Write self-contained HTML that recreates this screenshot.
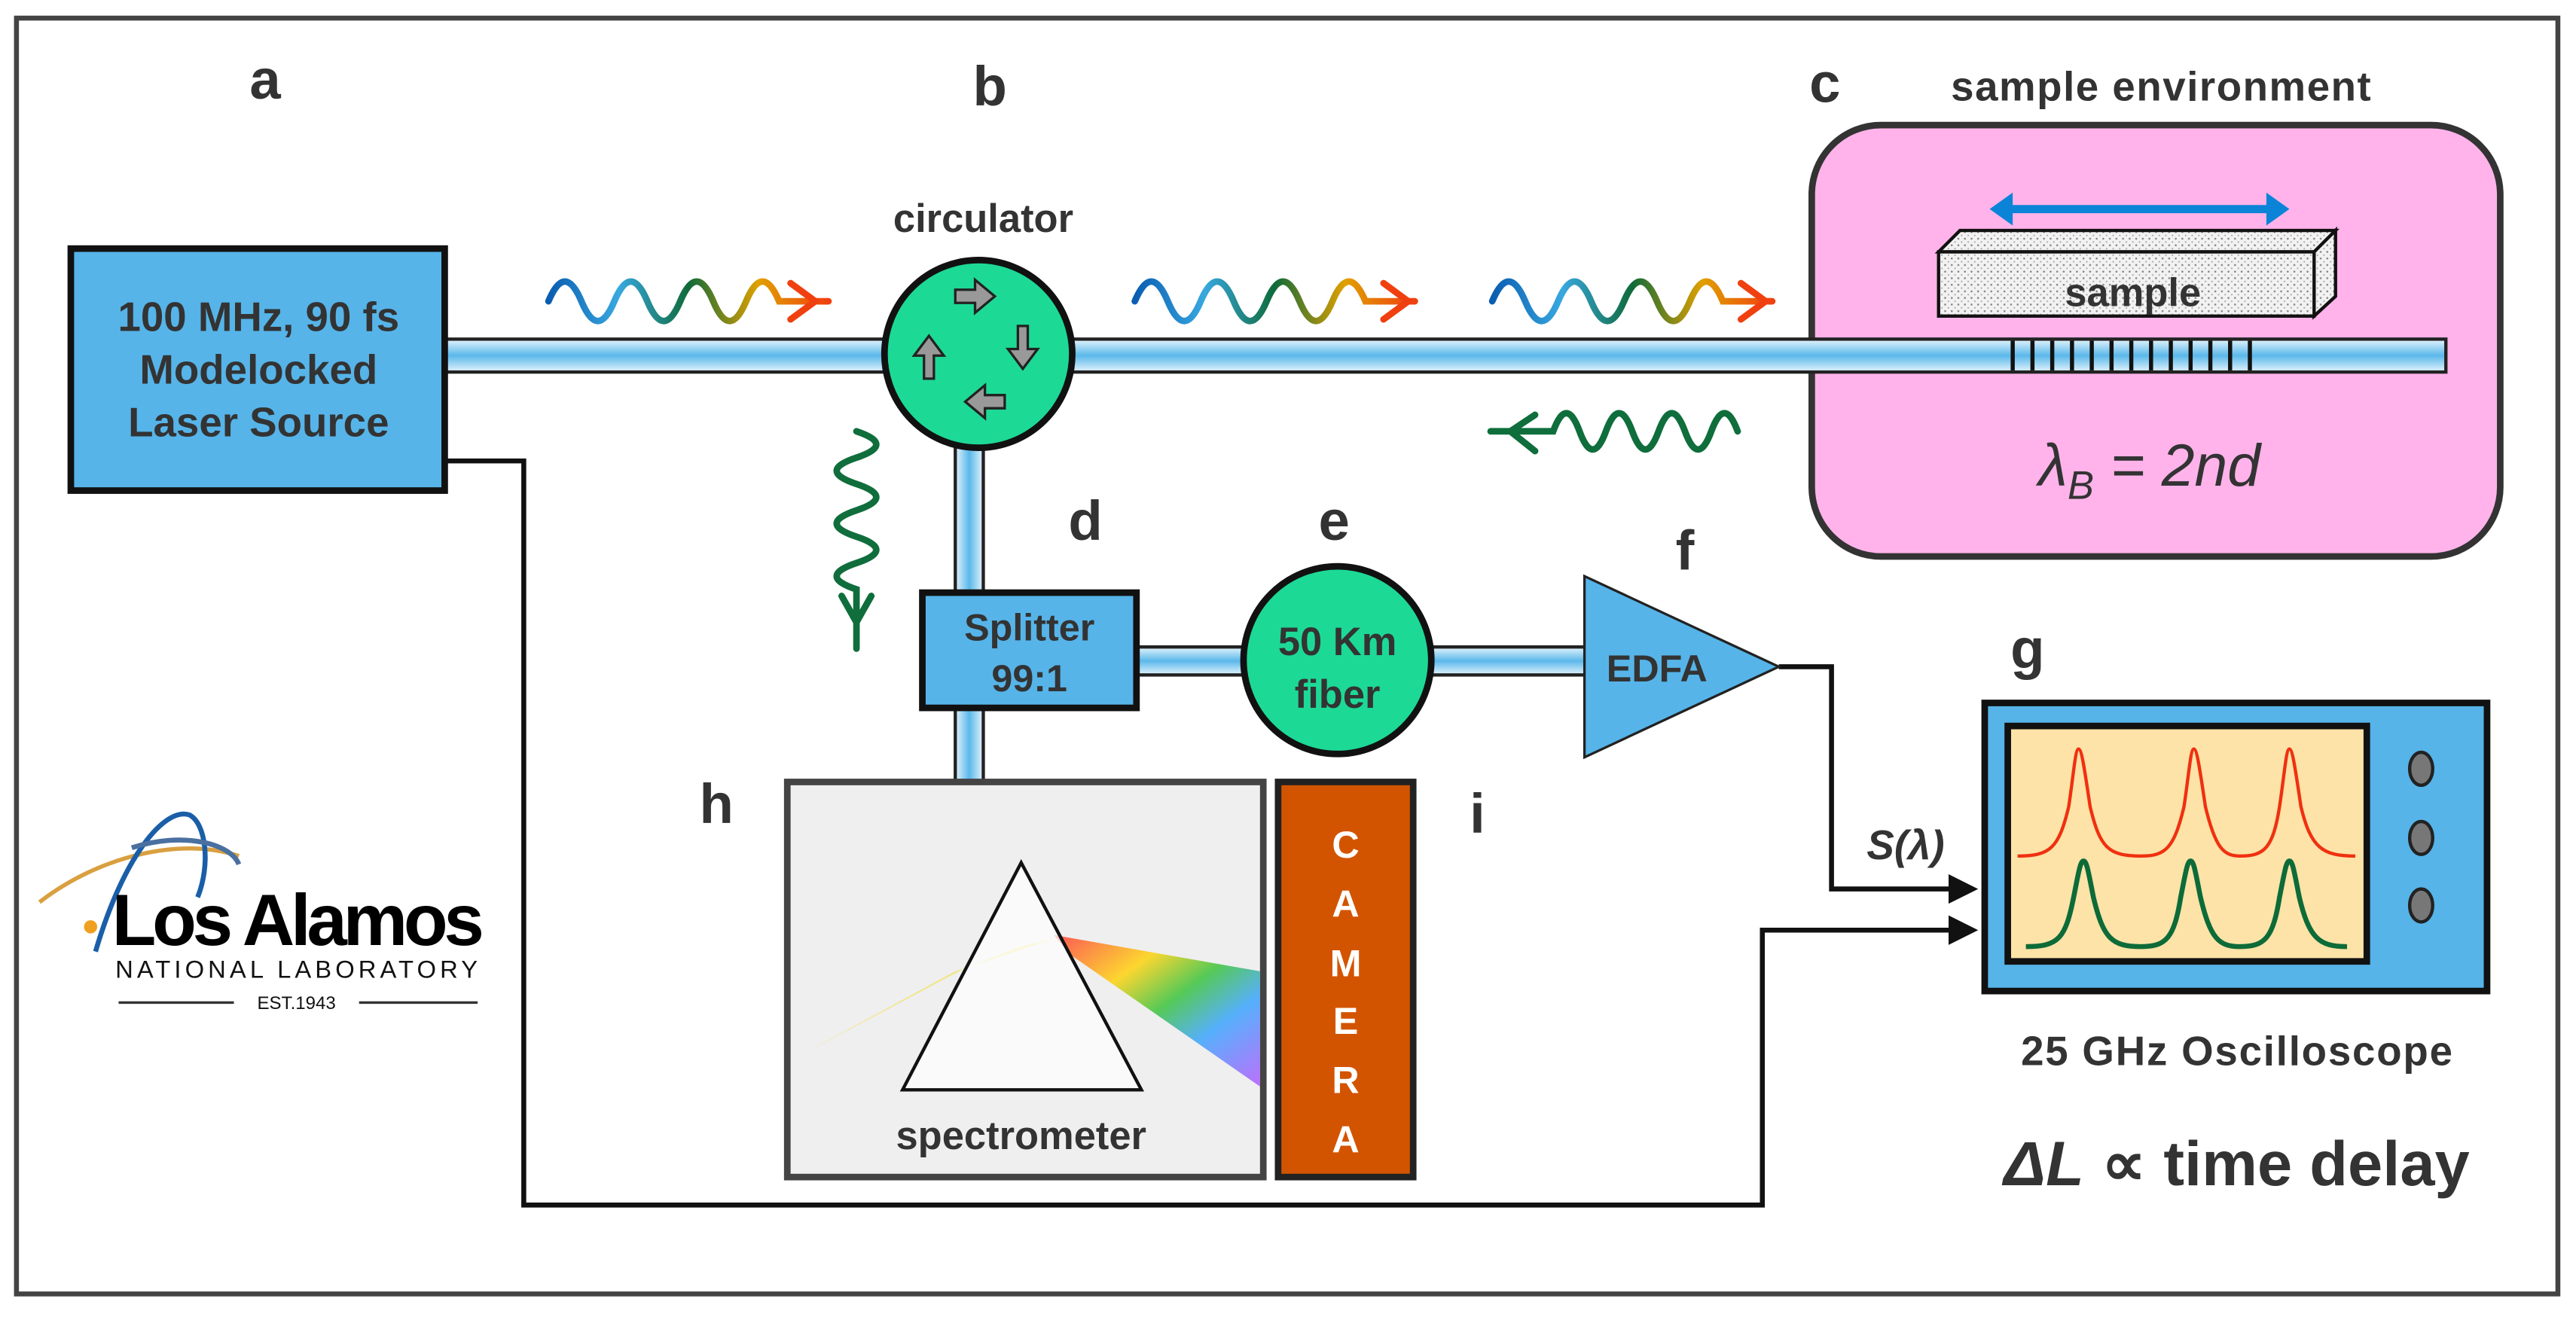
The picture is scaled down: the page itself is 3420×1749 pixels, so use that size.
<!DOCTYPE html>
<html><head><meta charset="utf-8"><style>
html,body{margin:0;padding:0;background:#fff;}
svg{display:block;}
text{font-family:"Liberation Sans",sans-serif;}
</style></head><body>
<svg width="3420" height="1749" viewBox="0 0 1564 800" preserveAspectRatio="none" xmlns="http://www.w3.org/2000/svg">
<defs>
<linearGradient id="fib" x1="0" y1="0" x2="0" y2="1">
<stop offset="0" stop-color="#e6f4fc"/><stop offset="0.5" stop-color="#5ab8ea"/><stop offset="1" stop-color="#e6f4fc"/></linearGradient>
<linearGradient id="fibv" x1="0" y1="0" x2="1" y2="0">
<stop offset="0" stop-color="#e6f4fc"/><stop offset="0.5" stop-color="#5ab8ea"/><stop offset="1" stop-color="#e6f4fc"/></linearGradient>
<linearGradient id="wave" x1="0" y1="0" x2="1" y2="0">
<stop offset="0" stop-color="#0a5db0"/><stop offset="0.25" stop-color="#38a8e0"/><stop offset="0.5" stop-color="#0f6b3a"/><stop offset="0.75" stop-color="#e0a000"/><stop offset="1" stop-color="#f04010"/></linearGradient>
<pattern id="dots" width="4" height="4" patternUnits="userSpaceOnUse"><rect width="4" height="4" fill="#f2f2f2"/><circle cx="1" cy="1" r="0.6" fill="#888"/><circle cx="3" cy="3" r="0.5" fill="#aaa"/></pattern>
<linearGradient id="rb" x1="0" y1="0" x2="1" y2="1">
<stop offset="0" stop-color="#ff3030"/><stop offset="0.3" stop-color="#ffd000"/><stop offset="0.5" stop-color="#30c030"/><stop offset="0.7" stop-color="#30a0ff"/><stop offset="1" stop-color="#b050ff"/></linearGradient>
<marker id="ar" markerWidth="6" markerHeight="6" refX="5" refY="3" orient="auto" markerUnits="strokeWidth"><path d="M0,0 L6,3 L0,6 z" fill="#111"/></marker>
</defs>
<rect x="10" y="11" width="1543" height="775" fill="#fff" stroke="#444" stroke-width="3"/>

<g font-weight="bold" fill="#333" font-size="34" text-anchor="middle">
<text x="161" y="60">a</text><text x="601" y="64">b</text><text x="1108" y="62">c</text>
<text x="659" y="328">d</text><text x="810" y="328">e</text><text x="1023" y="346">f</text>
<text x="1231" y="406">g</text><text x="435" y="500">h</text><text x="897" y="506">i</text>
</g>
<text x="1312" y="61" font-size="25" font-weight="bold" fill="#333" text-anchor="middle" textLength="255">sample environment</text>
<text x="597" y="141" font-size="24" font-weight="bold" fill="#333" text-anchor="middle">circulator</text>

<rect x="1100" y="76" width="418" height="262" rx="42" fill="#ffb3ea" stroke="#333" stroke-width="4"/>

<polyline points="1080,405 1112,405 1112,540 1198,540" fill="none" stroke="#111" stroke-width="3" marker-end="url(#ar)"/>
<polyline points="270,280 318,280 318,732 1070,732 1070,565 1198,565" fill="none" stroke="#111" stroke-width="3" marker-end="url(#ar)"/>

<rect x="268" y="206" width="1217" height="20" fill="url(#fib)" stroke="#222" stroke-width="2"/>
<rect x="580" y="268" width="17" height="94" fill="url(#fibv)" stroke="#222" stroke-width="2"/>
<rect x="580" y="428" width="17" height="48" fill="url(#fibv)" stroke="#222" stroke-width="2"/>
<rect x="688" y="393" width="276" height="17" fill="url(#fib)" stroke="#222" stroke-width="2"/>
<g stroke="#111" stroke-width="2.5">
<line x1="1222" y1="207" x2="1222" y2="225"/><line x1="1234" y1="207" x2="1234" y2="225"/><line x1="1246" y1="207" x2="1246" y2="225"/><line x1="1258" y1="207" x2="1258" y2="225"/><line x1="1270" y1="207" x2="1270" y2="225"/><line x1="1282" y1="207" x2="1282" y2="225"/><line x1="1294" y1="207" x2="1294" y2="225"/><line x1="1306" y1="207" x2="1306" y2="225"/><line x1="1318" y1="207" x2="1318" y2="225"/><line x1="1330" y1="207" x2="1330" y2="225"/><line x1="1342" y1="207" x2="1342" y2="225"/><line x1="1354" y1="207" x2="1354" y2="225"/><line x1="1366" y1="207" x2="1366" y2="225"/>
</g>

<rect x="43" y="151" width="227" height="147" fill="#56b4e9" stroke="#111" stroke-width="4"/>
<g font-size="25" font-weight="bold" fill="#333" text-anchor="middle">
<text x="157" y="201">100 MHz, 90 fs</text><text x="157" y="233">Modelocked</text><text x="157" y="265">Laser Source</text></g>

<circle cx="594" cy="215" r="57" fill="#1dd996" stroke="#111" stroke-width="4"/>
<g fill="#999" stroke="#222" stroke-width="1.5">
<path d="M580,176 h12 v-6 l12,10 -12,10 v-6 h-12z"/>
<path d="M624,198 v14 h6 l-9,12 -9,-12 h6 v-14z"/>
<path d="M610,248 h-12 v6 l-12,-10 12,-10 v6 h12z"/>
<path d="M561,230 v-14 h-6 l9,-12 9,12 h-6 v14z"/>
</g>

<rect x="560" y="360" width="130" height="70" fill="#56b4e9" stroke="#111" stroke-width="4"/>
<g font-size="23" font-weight="bold" fill="#333" text-anchor="middle"><text x="625" y="389">Splitter</text><text x="625" y="420">99:1</text></g>
<circle cx="812" cy="401" r="57" fill="#1dd996" stroke="#111" stroke-width="4"/>
<g font-size="24" font-weight="bold" fill="#333" text-anchor="middle"><text x="812" y="398">50 Km</text><text x="812" y="430">fiber</text></g>
<polygon points="962,350 962,460 1080,405" fill="#56b4e9" stroke="#222" stroke-width="1.5"/>
<text x="1006" y="414" font-size="23" font-weight="bold" fill="#333" text-anchor="middle">EDFA</text>

<g fill="none" stroke="url(#wave)" stroke-width="4" stroke-linecap="round">
<path d="M333,183 q10,-24 20,0 t20,0 t20,0 t20,0 t20,0 t20,0 t20,0 h30"/>
<path d="M689,183 q10,-24 20,0 t20,0 t20,0 t20,0 t20,0 t20,0 t20,0 h30"/>
<path d="M906,183 q10,-24 20,0 t20,0 t20,0 t20,0 t20,0 t20,0 t20,0 h30"/>
</g>
<g fill="none" stroke="#f04010" stroke-width="4" stroke-linecap="round">
<polyline points="480,172 495,183 480,194"/><polyline points="840,172 855,183 840,194"/><polyline points="1057,172 1072,183 1057,194"/></g>
<g fill="none" stroke="#0f6e3c" stroke-width="4" stroke-linecap="round">
<path d="M1055,262 q-8,-22 -16,0 t-16,0 t-16,0 t-16,0 t-16,0 t-16,0 t-16,0 h-38"/>
<polyline points="932,252 917,262 932,274"/>
<path d="M520,262 q24,8 0,16 t0,16 t0,16 t0,16 t0,16 t0,16 v36"/>
<polyline points="511,362 520,378 529,362"/>
</g>

<line x1="1216" y1="127" x2="1382" y2="127" stroke="#0b84d8" stroke-width="5"/>
<polygon points="1208,127 1222,117 1222,137" fill="#0b84d8"/><polygon points="1390,127 1376,117 1376,137" fill="#0b84d8"/>
<polygon points="1177,153 1190,140 1418,140 1405,153" fill="url(#dots)" stroke="#111" stroke-width="2"/>
<polygon points="1405,153 1418,140 1418,180 1405,192" fill="url(#dots)" stroke="#111" stroke-width="2"/>
<rect x="1177" y="153" width="228" height="39" fill="url(#dots)" stroke="#111" stroke-width="2"/>
<text x="1295" y="186" font-size="24" font-weight="bold" fill="#333" text-anchor="middle">sample</text>
<text x="1305" y="295" font-size="36" font-style="italic" fill="#333" text-anchor="middle">λ<tspan font-size="24" dy="8">B</tspan><tspan dy="-8"> = 2nd</tspan></text>

<rect x="1205" y="427" width="305" height="175" fill="#56b4e9" stroke="#111" stroke-width="4"/>
<rect x="1219" y="441" width="218" height="143" fill="#fde3a7" stroke="#111" stroke-width="4"/>
<g fill="#777" stroke="#222" stroke-width="2"><ellipse cx="1470" cy="467" rx="7" ry="10"/><ellipse cx="1470" cy="509" rx="7" ry="10"/><ellipse cx="1470" cy="550" rx="7" ry="10"/></g>
<path d="M1225,520 C1245,520 1250,515 1256,490 C1259,470 1260,455 1262,455 C1264,455 1266,470 1269,490 C1275,515 1280,520 1300,520 C1315,520 1320,515 1326,490 C1329,470 1330,455 1332,455 C1334,455 1336,470 1339,490 C1345,515 1350,520 1360,520 C1375,520 1380,515 1384,490 C1387,470 1388,455 1390,455 C1392,455 1394,470 1397,490 C1403,515 1410,520 1430,520" fill="none" stroke="#f03010" stroke-width="2"/>
<path d="M1230,575 C1250,575 1254,570 1259,545 C1262,530 1263,523 1265,523 C1267,523 1268,530 1271,545 C1277,570 1282,575 1300,575 C1315,575 1320,570 1324,545 C1327,530 1328,523 1330,523 C1332,523 1333,530 1336,545 C1342,570 1347,575 1360,575 C1375,575 1380,570 1384,545 C1387,530 1388,523 1390,523 C1392,523 1393,530 1396,545 C1402,570 1408,575 1425,575" fill="none" stroke="#0d6b38" stroke-width="3"/>
<text x="1358" y="647" font-size="25" font-weight="bold" fill="#333" text-anchor="middle" textLength="262">25 GHz Oscilloscope</text>
<text x="1358" y="720" font-size="38" font-weight="bold" fill="#333" text-anchor="middle"><tspan font-style="italic">ΔL</tspan> ∝ time delay</text>
<text x="1157" y="522" font-size="25" font-weight="bold" font-style="italic" fill="#333" text-anchor="middle">S(λ)</text>

<rect x="478" y="475" width="289" height="240" fill="#efefef" stroke="#444" stroke-width="4"/>
<polygon points="488,640 580,590 640,570 620,575 586,588" fill="#f5e050" opacity="0.7"/>
<polygon points="640,568 765,590 765,660 650,580" fill="url(#rb)" opacity="0.8"/>
<polygon points="620,524 548,662 693,662" fill="#fff" fill-opacity="0.7" stroke="#111" stroke-width="2"/>
<text x="620" y="698" font-size="24" font-weight="bold" fill="#333" text-anchor="middle">spectrometer</text>
<rect x="776" y="475" width="82" height="240" fill="#d35400" stroke="#222" stroke-width="4"/>
<g font-size="23" font-weight="bold" fill="#fff" text-anchor="middle">
<text x="817" y="521">C</text><text x="817" y="557">A</text><text x="817" y="593">M</text><text x="817" y="628">E</text><text x="817" y="664">R</text><text x="817" y="700">A</text></g>

<path d="M24,548 C60,520 110,508 145,520" fill="none" stroke="#d9a040" stroke-width="2.5"/>
<path d="M58,578 C75,520 100,490 115,495 C125,500 128,525 120,545" fill="none" stroke="#1a5ea8" stroke-width="3"/>
<path d="M80,515 C110,505 140,512 145,525" fill="none" stroke="#4a70a0" stroke-width="3"/>
<circle cx="55" cy="563" r="4" fill="#f0a020"/>
<text x="68" y="574" font-size="44" font-weight="bold" fill="#000" letter-spacing="-2" textLength="224">Los Alamos</text>
<text x="70" y="594" font-size="15" fill="#111" textLength="220">NATIONAL LABORATORY</text>
<line x1="72" y1="609" x2="142" y2="609" stroke="#333" stroke-width="1.5"/><line x1="218" y1="609" x2="290" y2="609" stroke="#333" stroke-width="1.5"/>
<text x="180" y="613" font-size="11" fill="#111" text-anchor="middle">EST.1943</text>
</svg>
</body></html>
